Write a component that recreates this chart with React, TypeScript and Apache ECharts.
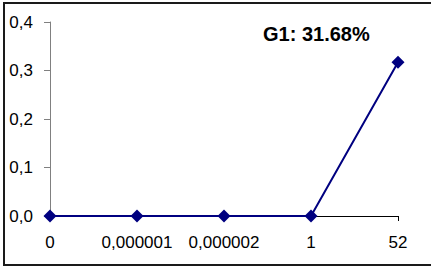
import React, { useEffect, useRef } from "react";
import * as echarts from "echarts";

const categories = ["0", "0,000001", "0,000002", "1", "52"];
const values = [0, 0, 0, 0, 0.3168];
const titleText = "G1: 31.68%";
const yMin = 0;
const yMax = 0.4;
const yInterval = 0.1;

export default function App() {
  const ref = useRef<HTMLDivElement>(null);
  useEffect(() => {
    if (!ref.current) return;
    const chart = echarts.init(ref.current, undefined, { renderer: "svg" });
    const font = "'Liberation Sans', Arial, sans-serif";
    chart.setOption({
      animation: false,
      backgroundColor: "#ffffff",
      title: {
        text: titleText,
        left: 263,
        top: 24,
        padding: 0,
        textStyle: { fontFamily: font, fontSize: 20, fontWeight: "bold", color: "#000" },
      },
      grid: { left: 50, right: 33, top: 22, bottom: 53, containLabel: false },
      xAxis: {
        type: "category",
        data: categories,
        boundaryGap: false,
        axisLine: { show: true, lineStyle: { color: "#000", width: 1 } },
        axisTick: { show: true, length: 5, lineStyle: { color: "#000" } },
        axisLabel: { fontFamily: font, fontSize: 17, color: "#000", margin: 18, interval: 0 },
        splitLine: { show: false },
      },
      yAxis: {
        type: "value",
        min: yMin,
        max: yMax,
        interval: yInterval,
        axisLine: { show: true, lineStyle: { color: "#808080", width: 1 } },
        axisTick: { show: true, length: 6, lineStyle: { color: "#808080" } },
        axisLabel: {
          fontFamily: font,
          fontSize: 17,
          color: "#000",
          margin: 17,
          formatter: (v: number) => v.toFixed(1).replace(".", ","),
        },
        splitLine: { show: false },
      },
      series: [
        {
          type: "line",
          data: values,
          symbol: "diamond",
          symbolSize: 13,
          itemStyle: { color: "#000080" },
          lineStyle: { color: "#000080", width: 2 },
        },
      ],
      graphic: [
        {
          type: "rect",
          shape: { x: 4, y: 3, width: 440, height: 262 },
          style: { fill: "none", stroke: "#1a1a1a", lineWidth: 2 },
          silent: true,
        },
      ],
    });
    return () => chart.dispose();
  }, []);
  return (
    <div
      ref={ref}
      style={{ position: "fixed", left: 0, top: 0, width: 431, height: 269 }}
    />
  );
}
